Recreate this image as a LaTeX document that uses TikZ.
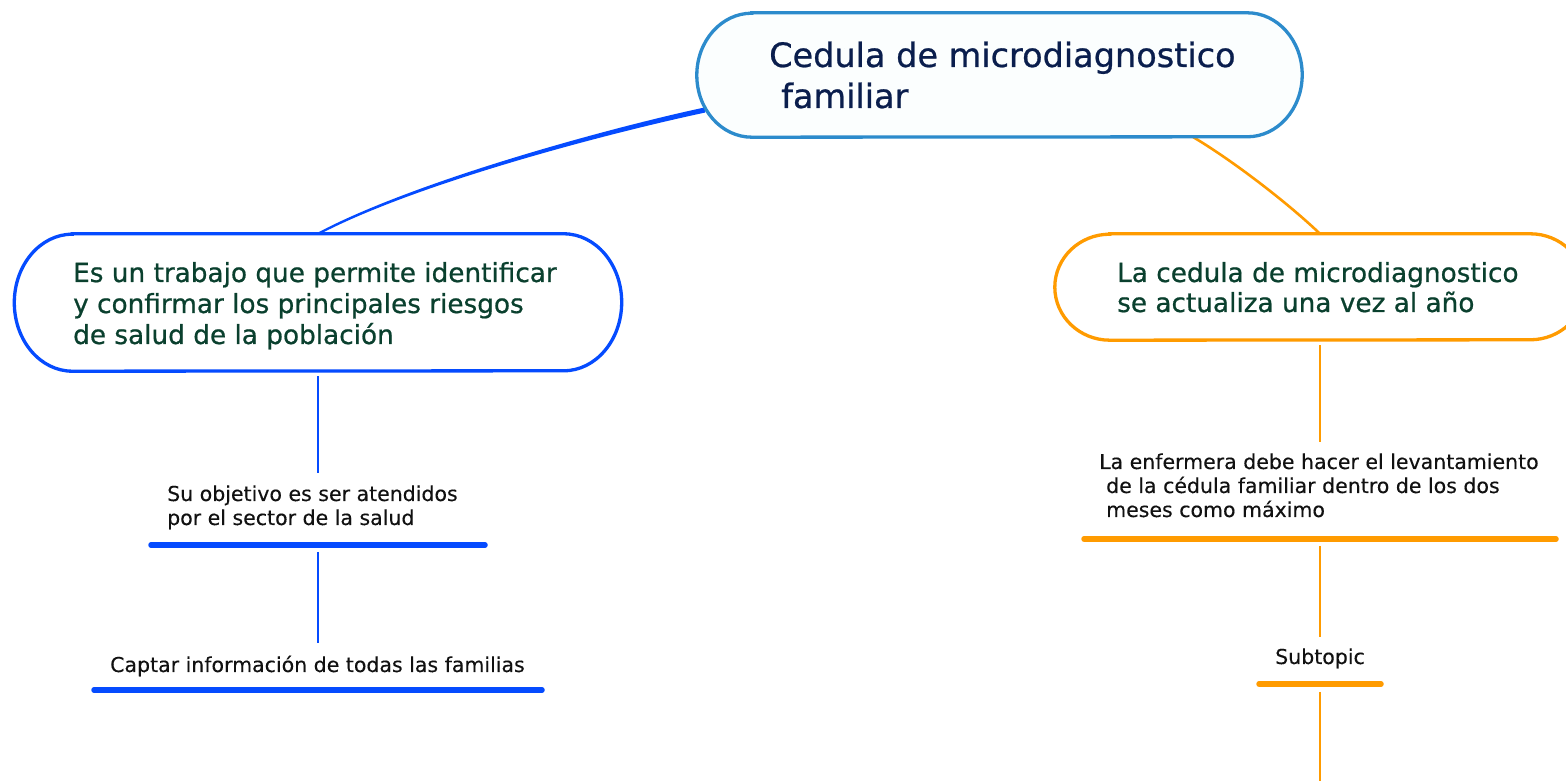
\documentclass[tikz,border=0pt]{standalone}
\usepackage{fontspec}
\setmainfont{DejaVu Sans}
\newfontfamily\heavyfont[FakeBold=0.7]{DejaVu Sans}
\newfontfamily\smallfontfam[FakeBold=0.25]{DejaVu Sans}
\usetikzlibrary{calc}
\definecolor{rootblue}{RGB}{44,139,204}
\definecolor{rootfill}{RGB}{251,254,254}
\definecolor{navy}{RGB}{10,30,77}
\definecolor{bblue}{RGB}{5,75,255}
\definecolor{dgreen}{RGB}{10,64,46}
\definecolor{orng}{RGB}{255,155,0}
\definecolor{smalltxt}{RGB}{17,17,17}
\newcommand\pillshape[5]{% node, rx, ry, draw options
  \draw[#4] ([xshift=#2]#1.north west) -- ([xshift=-#2]#1.north east)
    arc[start angle=90,end angle=-90,x radius=#2,y radius=#3]
    -- ([xshift=#2]#1.south west)
    arc[start angle=270,end angle=90,x radius=#2,y radius=#3] -- cycle;#5}
\tikzset{
  boxnode/.style={inner sep=0pt, draw=none},
  tline/.style={inner sep=0pt, anchor=base west},
  titlefont/.style={font=\heavyfont\fontsize{33.5}{40}\selectfont, text=navy},
  midfont/.style={font=\heavyfont\fontsize{26.3}{31}\selectfont, text=dgreen},
  smallfont/.style={font=\smallfontfam\fontsize{20.5}{24}\selectfont, text=smalltxt},
  bar/.style={line width=5.5pt, line cap=round},
  vline/.style={line width=2pt},
}
\begin{document}
\begin{tikzpicture}[x=1pt,y=1pt]
\useasboundingbox (0,0) rectangle (1566,781);
\clip (0,0) rectangle (1566,781);
\fill[white] (0,0) rectangle (1566,781);

% box anchors (shapes drawn after connectors)
\node[boxnode, minimum width=605pt, minimum height=124pt] (rootbox) at (999.5,706) {};
\node[boxnode, minimum width=607pt, minimum height=137pt] (leftbox) at (318,478.5) {};
\node[boxnode, minimum width=530pt, minimum height=106pt] (rightbox) at (1320,494) {};

\coordinate (rootL) at (705,671);
\coordinate (rootR) at (1193,644);

% main connectors
\fill[bblue] ($(rootL)+(0,2.6)$) .. controls (620,655.6) and (420,602.3) .. ($(leftbox.north)+(0,1.3)$)
  -- ($(leftbox.north)+(0,-1.3)$) .. controls (420,599.7) and (620,650.4) .. ($(rootL)+(0,-2.6)$) -- cycle;
\draw[orng, line width=2.6pt] (rootR) .. controls (1235,619) and (1290,576) .. (rightbox.north);

% boxes
\pillshape{rootbox}{55pt}{62pt}{draw=rootblue, fill=rootfill, line width=3.3pt}{}
\pillshape{leftbox}{58pt}{68.5pt}{draw=bblue, fill=white, line width=3.3pt}{}
\pillshape{rightbox}{55pt}{53pt}{draw=orng, fill=white, line width=3.3pt}{}

% box texts
\node[tline, titlefont] (rt1) at (769,714) {Cedula de microdiagnostico};
\node[tline, titlefont] (rt2) at (781,673) {familiar};
\node[tline, midfont] (lt1) at (73,499) {Es un trabajo que permite identificar};
\node[tline, midfont] (lt2) at (73,468) {y confirmar los principales riesgos};
\node[tline, midfont] (lt3) at (73,437) {de salud de la población};
\node[tline, midfont] (rt3) at (1117,499) {La cedula de microdiagnostico};
\node[tline, midfont] (rt4) at (1117,469) {se actualiza una vez al año};

% left branch
\node[tline, smallfont] (s1a) at (167,280) {Su objetivo es ser atendidos};
\node[tline, smallfont] (s1b) at (167,256) {por el sector de la salud};
\coordinate (bar1a) at (151,236); \coordinate (bar1b) at (485,236);
\draw[bar, bblue] (bar1a) -- (bar1b);
\draw[vline, bblue] ([yshift=-5pt]leftbox.south) -- ++(0,-97);
\node[tline, smallfont] (s2) at (110,109) {Captar información de todas las familias};
\coordinate (bar2a) at (94,91); \coordinate (bar2b) at (542,91);
\draw[bar, bblue] (bar2a) -- (bar2b);
\draw[vline, bblue] ([yshift=-7pt]$(bar1a)!0.5!(bar1b)$) -- ++(0,-91);

% right branch
\node[tline, smallfont] (r1a) at (1099,312) {La enfermera debe hacer el levantamiento};
\node[tline, smallfont] (r1b) at (1106,288) {de la cédula familiar dentro de los dos};
\node[tline, smallfont] (r1c) at (1106,264) {meses como máximo};
\coordinate (bar3a) at (1084,242); \coordinate (bar3b) at (1556,242);
\draw[bar, orng] (bar3a) -- (bar3b);
\draw[vline, orng] ([yshift=-5pt]rightbox.south) -- ++(0,-97);
\node[inner sep=0pt, anchor=base, smallfont] (r2) at (1320,117) {Subtopic};
\coordinate (bar4a) at (1259,97); \coordinate (bar4b) at (1381,97);
\draw[bar, orng] (bar4a) -- (bar4b);
\draw[vline, orng] ([yshift=-7pt]$(bar3a)!0.5!(bar3b)$) -- ++(0,-91);
\draw[vline, orng] ([yshift=-8pt]$(bar4a)!0.5!(bar4b)$) -- ++(0,-95);
\end{tikzpicture}
\end{document}
